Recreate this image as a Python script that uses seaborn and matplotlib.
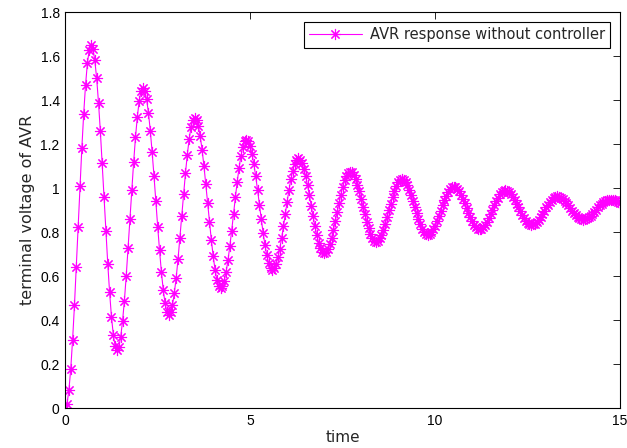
import numpy as np
import matplotlib
matplotlib.use("Agg")
import matplotlib.pyplot as plt
import seaborn as sns
from matplotlib.ticker import FuncFormatter

# time axis: 0 .. 15 s, sampled every 0.05 s
time = np.linspace(0, 15, 301)

# terminal voltage (one value per sample)
voltage = [
    0.000,
    0.021, 0.082, 0.180, 0.311, 0.467, 0.641, 0.825, 1.009, 1.183, 1.339, 1.470, 1.568, 1.629, 1.650,
    1.633, 1.581, 1.499, 1.389, 1.258, 1.112, 0.958, 0.803, 0.657, 0.526, 0.416, 0.334, 0.282, 0.265,
    0.280, 0.324, 0.395, 0.489, 0.602, 0.728, 0.860, 0.992, 1.118, 1.231, 1.325, 1.396, 1.440, 1.455,
    1.442, 1.404, 1.343, 1.261, 1.163, 1.055, 0.940, 0.825, 0.717, 0.619, 0.537, 0.476, 0.438, 0.425,
    0.436, 0.469, 0.523, 0.593, 0.678, 0.773, 0.873, 0.972, 1.067, 1.151, 1.222, 1.276, 1.309, 1.320,
    1.310, 1.282, 1.235, 1.174, 1.101, 1.019, 0.933, 0.846, 0.764, 0.691, 0.630, 0.583, 0.555, 0.545,
    0.553, 0.578, 0.619, 0.672, 0.736, 0.807, 0.883, 0.958, 1.029, 1.093, 1.146, 1.187, 1.212, 1.220,
    1.213, 1.191, 1.156, 1.109, 1.053, 0.991, 0.925, 0.859, 0.797, 0.741, 0.694, 0.659, 0.637, 0.630,
    0.636, 0.655, 0.685, 0.725, 0.773, 0.826, 0.883, 0.939, 0.992, 1.040, 1.080, 1.110, 1.129, 1.135,
    1.130, 1.114, 1.088, 1.054, 1.013, 0.968, 0.920, 0.872, 0.827, 0.786, 0.752, 0.726, 0.710, 0.705,
    0.710, 0.723, 0.745, 0.775, 0.810, 0.849, 0.890, 0.931, 0.970, 1.005, 1.035, 1.057, 1.070, 1.075,
    1.071, 1.059, 1.040, 1.015, 0.985, 0.951, 0.916, 0.881, 0.847, 0.817, 0.792, 0.773, 0.761, 0.757,
    0.761, 0.771, 0.788, 0.810, 0.837, 0.867, 0.899, 0.930, 0.960, 0.987, 1.009, 1.026, 1.036, 1.040,
    1.037, 1.028, 1.013, 0.993, 0.969, 0.942, 0.914, 0.886, 0.859, 0.835, 0.816, 0.801, 0.791, 0.788,
    0.791, 0.799, 0.812, 0.829, 0.850, 0.873, 0.897, 0.921, 0.944, 0.965, 0.982, 0.995, 1.003, 1.006,
    1.004, 0.996, 0.985, 0.970, 0.951, 0.931, 0.909, 0.887, 0.867, 0.849, 0.833, 0.822, 0.814, 0.812,
    0.814, 0.821, 0.831, 0.846, 0.862, 0.881, 0.901, 0.921, 0.940, 0.957, 0.971, 0.981, 0.988, 0.990,
    0.988, 0.982, 0.973, 0.960, 0.946, 0.929, 0.912, 0.894, 0.877, 0.863, 0.850, 0.841, 0.835, 0.833,
    0.835, 0.839, 0.847, 0.857, 0.870, 0.883, 0.898, 0.912, 0.925, 0.938, 0.948, 0.956, 0.960, 0.962,
    0.961, 0.957, 0.951, 0.942, 0.932, 0.921, 0.910, 0.898, 0.887, 0.877, 0.869, 0.862, 0.858, 0.857,
    0.858, 0.862, 0.867, 0.874, 0.883, 0.892, 0.902, 0.912, 0.922, 0.930, 0.937, 0.943, 0.946, 0.947,
    0.947, 0.946, 0.944, 0.941, 0.937, 0.932,
]

x_ticks = [0, 5, 10, 15]
y_ticks = [0, 0.2, 0.4, 0.6, 0.8, 1.0, 1.2, 1.4, 1.6, 1.8]

sns.set_style("white")
plt.rcParams['font.family'] = ['Liberation Sans', 'DejaVu Sans']

fig = plt.figure(figsize=(6.27, 4.48), dpi=100)
ax = fig.add_axes([0.104, 0.089, 0.885, 0.884])

sns.lineplot(x=time, y=voltage, ax=ax, color='#FF00FF', linewidth=0.8,
             marker=(8, 2, 0), markersize=8, markeredgewidth=0.8,
             markeredgecolor='#FF00FF', label='AVR response without controller')

ax.set_xlim(0, 15)
ax.set_ylim(0, 1.8)
ax.set_xticks(x_ticks)
ax.set_yticks(y_ticks)
ax.yaxis.set_major_formatter(FuncFormatter(lambda v, p: '%g' % v))
ax.tick_params(direction='in', length=5, width=0.6, top=True, right=True,
               labelsize=10, colors='black', pad=4)
for s in ax.spines.values():
    s.set_color('black')
    s.set_linewidth(0.8)

ax.set_xlabel('time', fontsize=11, family='DejaVu Sans', labelpad=2)
ax.set_ylabel('terminal voltage of AVR', fontsize=11.5, family='DejaVu Sans', labelpad=4)

leg = ax.legend(loc='upper right', prop={'family': 'DejaVu Sans', 'size': 10.5},
                frameon=True, fancybox=False, framealpha=1, edgecolor='black',
                handlelength=3.6, handletextpad=0.55,
                borderaxespad=0.7, borderpad=0.35)
leg.get_frame().set_linewidth(0.8)

fig.savefig('out.png', dpi=100)
